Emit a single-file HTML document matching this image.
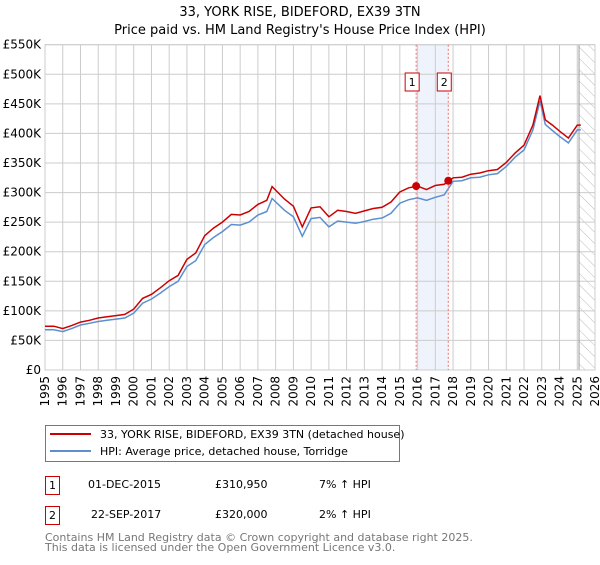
<!DOCTYPE html>
<html><head><meta charset="utf-8"><style>
body{margin:0;background:#fff;font-family:"Liberation Sans","DejaVu Sans",sans-serif;}
</style></head><body>
<svg id="c" width="600" height="560" xmlns="http://www.w3.org/2000/svg" font-family="DejaVu Sans, Liberation Sans, sans-serif">
<defs><pattern id="hatch" width="8" height="8" patternUnits="userSpaceOnUse" patternTransform="rotate(-45)"><line x1="0" y1="0" x2="0" y2="8" stroke="#bbb" stroke-width="1"/></pattern></defs>
<text x="300" y="16" text-anchor="middle" font-size="13">33, YORK RISE, BIDEFORD, EX39 3TN</text>
<text x="300" y="34" text-anchor="middle" font-size="13">Price paid vs. HM Land Registry's House Price Index (HPI)</text>
<g id="plot"></g>
<g>
<rect x="45.5" y="425.5" width="354" height="36" fill="#fff" stroke="#777"/>
<line x1="50" y1="434" x2="91" y2="434" stroke="#cc0000" stroke-width="2"/>
<text x="100" y="438" font-size="11">33, YORK RISE, BIDEFORD, EX39 3TN (detached house)</text>
<line x1="50" y1="451" x2="91" y2="451" stroke="#5b8fd0" stroke-width="2"/>
<text x="100" y="455" font-size="11">HPI: Average price, detached house, Torridge</text>
</g>
<g font-size="11">
<rect x="45.5" y="476.5" width="14" height="18" fill="#fff" stroke="#cc0000"/><text x="52.5" y="489" text-anchor="middle">1</text>
<text x="88" y="488">01-DEC-2015</text><text x="215" y="488">£310,950</text><text x="319" y="488">7% ↑ HPI</text>
<rect x="45.5" y="506.5" width="14" height="18" fill="#fff" stroke="#cc0000"/><text x="52.5" y="519" text-anchor="middle">2</text>
<text x="91" y="518">22-SEP-2017</text><text x="215" y="518">£320,000</text><text x="319" y="518">2% ↑ HPI</text>
</g>
<text x="45" y="541" font-size="11" fill="#777">Contains HM Land Registry data © Crown copyright and database right 2025.</text>
<text x="45" y="551" font-size="11" fill="#777">This data is licensed under the Open Government Licence v3.0.</text>
</svg>
<script>
const years=[1995,1995.5,1996,1996.5,1997,1997.5,1998,1998.5,1999,1999.5,2000,2000.5,2001,2001.5,2002,2002.5,2003,2003.5,2004,2004.5,2005,2005.5,2006,2006.5,2007,2007.5,2007.8,2008.5,2009,2009.5,2010,2010.5,2011,2011.5,2012,2012.5,2013,2013.5,2014,2014.5,2015,2015.5,2016,2016.5,2017,2017.5,2018,2018.5,2019,2019.5,2020,2020.5,2021,2021.5,2022,2022.5,2022.9,2023.2,2023.6,2024,2024.5,2025,2025.2];
const hpi=[68,68,65,70,76,79,82,84,86,88,96,113,120,130,141,150,175,185,212,224,234,246,245,250,262,268,290,270,259,226,256,258,242,252,250,248,251,255,257,265,282,288,291,287,292,296,319,320,325,326,330,332,344,360,372,406,455,415,405,395,384,406,406];
const price=[74,74,70,75,81,84,88,90,92,94,103,121,128,139,151,160,187,198,227,240,250,263,262,268,280,287,310,289,277,242,274,276,259,270,268,265,269,273,275,284,301,308,311,305,312,314,325,326,331,333,337,339,351,367,380,414,464,423,414,404,392,414,414];
const sales=[[2015.92,310950],[2017.73,320000]];
const yTicks=[0,50,100,150,200,250,300,350,400,450,500,550];
const xTicks=[];for(let y=1995;y<=2026;y++)xTicks.push(y);
const X0=45,X1=595,Y0=370,Y1=44.7;
const sx=v=>X0+(v-1995)/31*(X1-X0);
const sy=v=>Y0-v/550*(Y0-Y1);
const NS="http://www.w3.org/2000/svg";
const g=document.getElementById('plot');
function mk(t,a,p){const e=document.createElementNS(NS,t);for(const k in a)e.setAttribute(k,a[k]);(p||g).appendChild(e);return e;}
const band=mk('rect',{x:sx(2015.92),y:Y1,width:sx(2017.73)-sx(2015.92),height:Y0-Y1,fill:'#eef3fc'});


const hat=mk('rect',{x:sx(2025.1),y:Y1,width:X1-sx(2025.1),height:Y0-Y1,fill:'url(#hatch)'});


yTicks.forEach(t=>{const l=mk('line',{x1:X0,x2:X1,y1:sy(t),y2:sy(t),stroke:'#ccc'});


const tx=mk('text',{x:41,y:sy(t)+4,'text-anchor':'end','font-size':12});tx.textContent=t===0?'£0':'£'+t+'K';

});
xTicks.forEach(t=>{const l=mk('line',{x1:sx(t),x2:sx(t),y1:Y1,y2:Y0,stroke:'#ccc'});


const tx=mk('text',{x:0,y:0,'text-anchor':'end','font-size':12,transform:`translate(${sx(t)+4},376) rotate(-90)`});tx.textContent=t;

});
mk('line',{x1:sx(2025.1),x2:sx(2025.1),y1:Y1,y2:Y0,stroke:'#999'});
mk('rect',{x:X0,y:Y1,width:X1-X0,height:Y0-Y1,fill:'none',stroke:'#ccc'});
const pts=a=>a.map((v,i)=>sx(years[i]).toFixed(1)+','+sy(v).toFixed(1)).join(' ');
const hl=mk('polyline',{points:pts(hpi),fill:'none',stroke:'#5b8fd0','stroke-width':1.5});


const pl=mk('polyline',{points:pts(price),fill:'none',stroke:'#cc0000','stroke-width':1.5});


sales.forEach((s,i)=>{
const l=mk('line',{x1:sx(s[0]),x2:sx(s[0]),y1:Y1,y2:Y0,stroke:'#f07070','stroke-dasharray':'2,2'});


const c=mk('circle',{cx:sx(s[0]),cy:sy(s[1]/1000),r:4,fill:'#cc0000'});


const bx=sx(s[0])-4;
const r=mk('rect',{x:bx-7,y:73,width:14,height:18,fill:'#fff',stroke:'#cc0000'});


const t=mk('text',{x:bx,y:86,'text-anchor':'middle','font-size':11});t.textContent=String(i+1);


});
</script>
</body></html>
